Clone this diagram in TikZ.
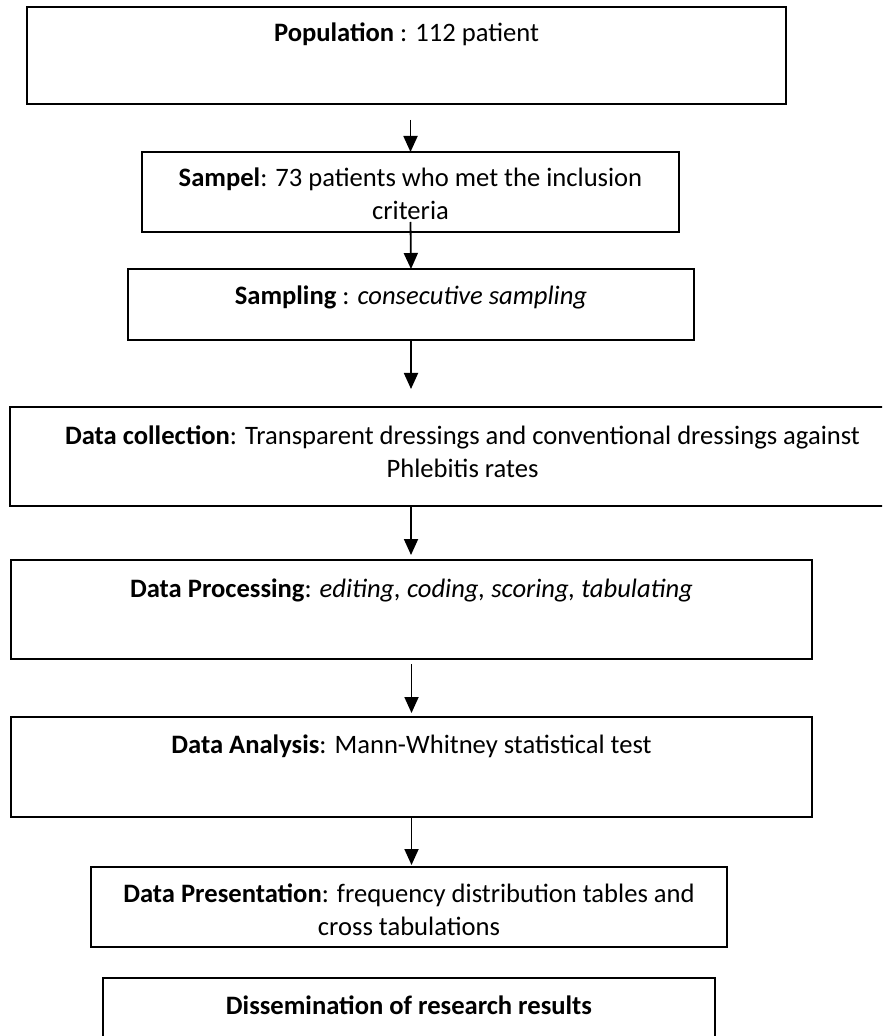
\documentclass[tikz,border=0pt]{standalone}
\usepackage{fontspec}
\setmainfont{Carlito}
\usepackage{tikz}
\usetikzlibrary{arrows.meta}

\tikzset{
  box/.style={draw, line width=0.9pt, inner sep=0pt, outer sep=0pt},
  lbl/.style={anchor=base, align=center, inner sep=0pt,
    font=\fontsize{13.3}{16.5}\selectfont},
  arr/.style={-{Triangle[length=8pt,width=7pt]}, line width=0.9pt}
}

\begin{document}
\begin{tikzpicture}[x=0.5pt,y=-0.5pt]
    % Fix the page size
    \useasboundingbox (0,0) rectangle (882,1036);
    \clip (0,0) rectangle (882,1036);
    % Draw the boxes
    \node[box, minimum width=379.5pt, minimum height=48.5pt] (pop) at (406.5,55.5) {};
    \node[box, minimum width=268.5pt, minimum height=40pt] (smp) at (410.5,192) {};
    \node[box, minimum width=283pt, minimum height=35.5pt] (smpl) at (411,304.5) {};
    \node[box, minimum width=452.5pt, minimum height=49.5pt] (coll) at (462.5,456.5) {};
    \node[box, minimum width=400.5pt, minimum height=49.5pt] (proc) at (411.5,609.5) {};
    \node[box, minimum width=400.5pt, minimum height=50pt] (ana) at (411.5,767) {};
    \node[box, minimum width=318pt, minimum height=40pt] (pres) at (409,907) {};
    \node[box, minimum width=306pt, minimum height=46pt] (diss) at (409,1024) {};
    % Add the texts (base is the last line)
    \node[lbl] (popt) at (406.5,42) {\textbf{Population} : 112 patient};
    \node[lbl] (smpt) at (410.5,220) {\textbf{Sampel}: 73 patients who met the inclusion\\criteria};
    \node[lbl] (smplt) at (411,305) {\textbf{Sampling} : \textit{consecutive sampling}};
    \node[lbl] (collt) at (462.5,477) {\textbf{Data collection}: Transparent dressings and conventional dressings against\\Phlebitis rates};
    \node[lbl] (proct) at (411.5,597) {\textbf{Data Processing}: \textit{editing, coding, scoring, tabulating}};
    \node[lbl] (anat) at (411.5,753) {\textbf{Data Analysis}: Mann-Whitney statistical test};
    \node[lbl] (prest) at (409,935) {\textbf{Data Presentation}: frequency distribution tables and\\cross tabulations};
    \node[lbl] (disst) at (409,1014) {\textbf{Dissemination of research results}};
    % Free end of the third arrow
    \coordinate (end3) at (411,389);
    % Draw the arrows
    \draw[arr, shorten <=8pt] (pop.south -| smp.north) -- (smp.north);
    \draw[arr] ([yshift=5pt]smp.south) -- (smpl.north);
    \draw[arr] (smpl.south) -- (end3);
    \draw[arr, shorten >=2.5pt] (coll.south -| smpl.south) -- (smpl.south |- proc.north);
    \draw[arr, shorten <=2.5pt, shorten >=2pt] (proc.south) -- (ana.north);
    \draw[arr, shorten >=1pt] (ana.south) -- (ana.south |- pres.north);
\end{tikzpicture}
\end{document}
